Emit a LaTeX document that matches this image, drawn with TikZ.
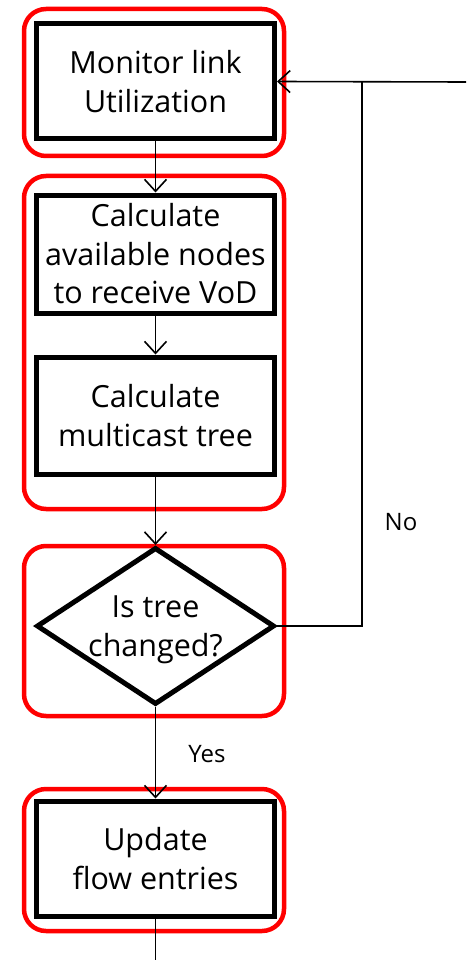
\documentclass[tikz,border=0pt]{standalone}
\usepackage{fontspec}
\setmainfont{Open Sans}
\usetikzlibrary{arrows.meta,shapes.geometric}
\begin{document}
\begin{tikzpicture}[x=1pt,y=-1pt,
  stepbox/.style={draw=black,line width=5pt,minimum width=238pt,align=center,font=\fontsize{30.5}{38.5}\selectfont,inner sep=0pt},
  grp/.style={draw=red,line width=4.5pt,rounded corners=22pt},
  conn/.style={line width=1.6pt,-{Straight Barb[length=12pt,width=22pt,line width=1.6pt]}},
  plain/.style={line width=1.6pt},
  lbl/.style={font=\fontsize{24}{28}\selectfont}]
\useasboundingbox (0,0) rectangle (466,960);
% red groups
\draw[grp] (24,9) rectangle (284,156);
\draw[grp] (24,176) rectangle (284,509);
\draw[grp] (24,546) rectangle (284,716);
\draw[grp] (24,789) rectangle (284,931);
% boxes
\node[stepbox,minimum height=115pt] (b1) at (155.5,81.5) {Monitor link\\Utilization};
\node[stepbox,minimum height=118pt] (b2) at (155.5,254) {Calculate\\available nodes\\to receive VoD};
\node[stepbox,minimum height=117pt] (b3) at (155.5,415.5) {Calculate\\multicast tree};
\node[diamond,draw=black,line width=5pt,minimum width=238pt,minimum height=157pt,inner sep=0pt,aspect=1.5] (d) at (155.5,626) {};
\node[align=center,font=\fontsize{30.5}{38.5}\selectfont] (dt) at (155.5,630) {Is tree\\changed?};
\node[stepbox,minimum height=115pt] (b4) at (155.5,858.5) {Update\\flow entries};
% coordinates
\coordinate (re) at (466,82);
\coordinate (rj) at (362,82);
\coordinate (be) at (155.5,960);
% connectors
\draw[conn] (b1.south) -- (b2.north);
\draw[conn] (b2.south) -- (b3.north);
\draw[conn] (b3.south) -- (d.north);
\draw[conn] (d.south) -- (b4.north);
\draw[plain] (b4.south) -- (be);
\draw[plain] (d.east) -| (rj);
\draw[conn] (re) -- (b1.east);
\node[lbl] (no) at (401,522) {No};
\node[lbl] (yes) at (207,754) {Yes};
\end{tikzpicture}
\end{document}
